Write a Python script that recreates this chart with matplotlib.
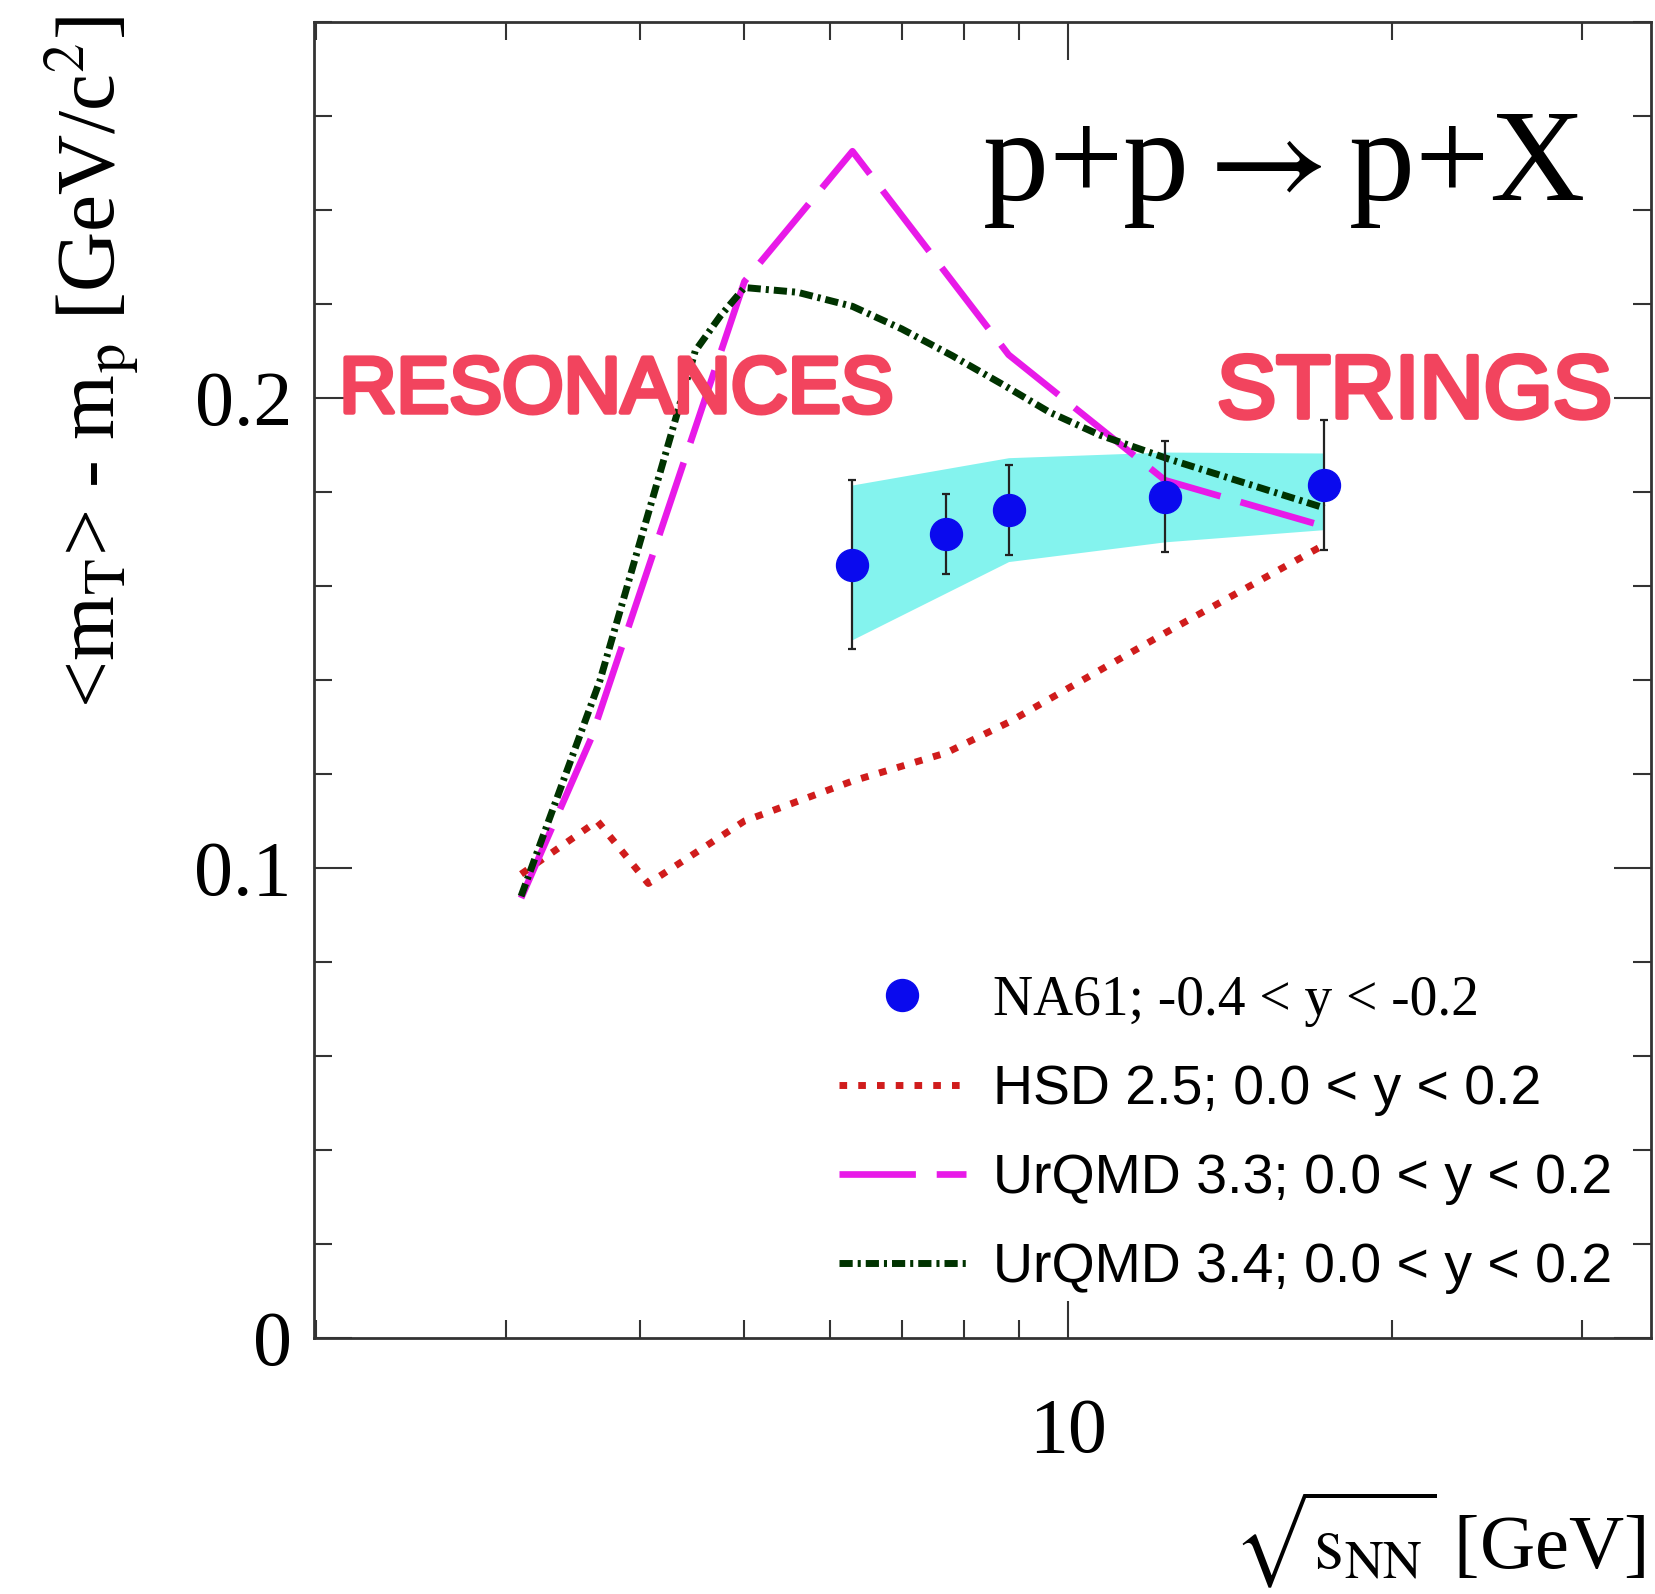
import matplotlib
matplotlib.use("Agg")
import matplotlib.pyplot as plt
import matplotlib.patheffects as pe
from matplotlib.lines import Line2D

plt.rcParams["font.family"] = ["Liberation Serif", "DejaVu Serif"]
plt.rcParams["mathtext.fontset"] = "stix"
plt.rcParams["lines.scale_dashes"] = False

# NA61 data points (sqrt(s_NN) in GeV, <mT> - mp in GeV/c^2)
na61_x = [6.3, 7.7, 8.8, 12.3, 17.3]
na61_y = [0.1645, 0.1711, 0.1762, 0.1790, 0.1815]
na61_err = [0.018, 0.0085, 0.0095, 0.0118, 0.0139]

# systematic band
band_x = [6.3, 8.8, 12.3, 17.3]
band_lo = [0.1486, 0.1652, 0.1694, 0.1720]
band_hi = [0.1815, 0.1873, 0.1885, 0.1883]

# model curves
hsd_x = [3.1, 3.65, 4.07, 5.0, 6.3, 7.7, 8.8, 12.3, 17.3]
hsd_y = [0.0987, 0.1100, 0.0967, 0.1100, 0.1185, 0.1245, 0.1310, 0.1500, 0.1688]

urqmd33_x = [3.1, 3.6, 5.0, 6.3, 8.8, 12.3, 17.3]
urqmd33_y = [0.0936, 0.1275, 0.2248, 0.2525, 0.2092, 0.1825, 0.1727]

urqmd34_x = [3.1, 3.67, 4.5, 4.75, 5.0, 5.6, 6.3, 7.0, 7.8, 8.7, 9.6, 10.7, 12.4, 17.3]
urqmd34_y = [0.0940, 0.1399, 0.2100, 0.2175, 0.2235, 0.2225, 0.2195, 0.2147,
             0.2090, 0.2028, 0.1970, 0.1921, 0.1870, 0.1766]

labels = ["NA61; -0.4 < y < -0.2", "HSD 2.5; 0.0 < y < 0.2",
          "UrQMD 3.3; 0.0 < y < 0.2", "UrQMD 3.4; 0.0 < y < 0.2"]

c_blue = "#0a0aee"
c_red = "#d01c1c"
c_mag = "#e81ae8"
c_green = "#003300"
c_band = "#84f3ee"
c_hand = "#f2445e"

hsd_style = dict(color=c_red, lw=5.0, dashes=[5.5, 8.0])
u33_style = dict(color=c_mag, lw=4.8, dashes=[55, 15])
u34_style = dict(color=c_green, lw=5.0, dashes=[9.5, 3.6, 2.2, 3.6])

fig = plt.figure(figsize=(16.56, 15.94), dpi=100)
ax = fig.add_axes([0.1896, 0.1606, 0.8074, 0.8256])

ax.fill_between(band_x, band_lo, band_hi, color=c_band, lw=0, zorder=1)
ax.plot(hsd_x, hsd_y, zorder=3, **hsd_style)
ax.plot(urqmd33_x, urqmd33_y, zorder=3, **u33_style)
ax.plot(urqmd34_x, urqmd34_y, zorder=3, **u34_style)
ax.errorbar(na61_x, na61_y, yerr=na61_err, fmt="o", ms=23, color=c_blue,
            ecolor="#222222", elinewidth=1.6, capsize=3, capthick=1.6, zorder=4)

ax.set_xscale("log")
ax.set_xlim(1.99, 34.8)
ax.set_ylim(0, 0.28)
ax.set_xticks([10])
ax.set_xticklabels(["10"])
ax.set_xticks([2, 3, 4, 5, 6, 7, 8, 9, 20, 30], minor=True)
ax.xaxis.set_minor_formatter(matplotlib.ticker.NullFormatter())
ax.set_yticks([0, 0.1, 0.2])
ax.set_yticklabels(["0", "0.1", "0.2"])
ax.set_yticks([0.02 * i for i in range(15)], minor=True)

ax.tick_params(which="both", direction="in", top=True, right=True,
               width=1.5, color="#333333", labelsize=56)
ax.tick_params(which="major", length=27)
ax.tick_params(which="minor", length=13)
ax.tick_params(axis="x", pad=43)
ax.tick_params(axis="y", pad=16)
for s in ax.spines.values():
    s.set_linewidth(2)
    s.set_color("#333333")

ax.text(0.95, 0.865, r"p+p$\rightarrow$p+X", transform=ax.transAxes,
        ha="right", va="baseline", fontsize=95)

# hand-written notes
hand = dict(transform=ax.transAxes, ha="center", va="center", color=c_hand,
            family="Liberation Sans",
            path_effects=[pe.withStroke(linewidth=3.5, foreground=c_hand)],
            zorder=5)
ax.text(0.226, 0.719, "RESONANCES", fontsize=57, **hand)
ax.text(0.823, 0.717, "STRINGS", fontsize=64, **hand)

handles = [
    Line2D([], [], ls="none", marker="o", ms=23, color=c_blue),
    Line2D([], [], **hsd_style),
    Line2D([], [], **u33_style),
    Line2D([], [], **u34_style),
]
leg = ax.legend(handles, labels, loc="upper left", bbox_to_anchor=(0.393, 0.276),
                frameon=False, fontsize=40, handlelength=2.27, handletextpad=0.49,
                labelspacing=0.67, borderpad=0, borderaxespad=0)
for i, t in enumerate(leg.get_texts()):
    t.set_family("Liberation Serif" if i == 0 else "Liberation Sans")

fig.text(93 / 1656, 1 - 16 / 1594, r"<m$_{\mathrm{T}}$> - m$_{\mathrm{p}}$ [GeV/c$^{2}$]",
         rotation=90, ha="center", va="top", fontsize=60)
fig.text(1645 / 1656, 26 / 1594, r"$\sqrt{\mathrm{s}_{\mathrm{NN}}}$ [GeV]",
         ha="right", va="baseline", fontsize=55)

fig.savefig("out.png", dpi=100)
